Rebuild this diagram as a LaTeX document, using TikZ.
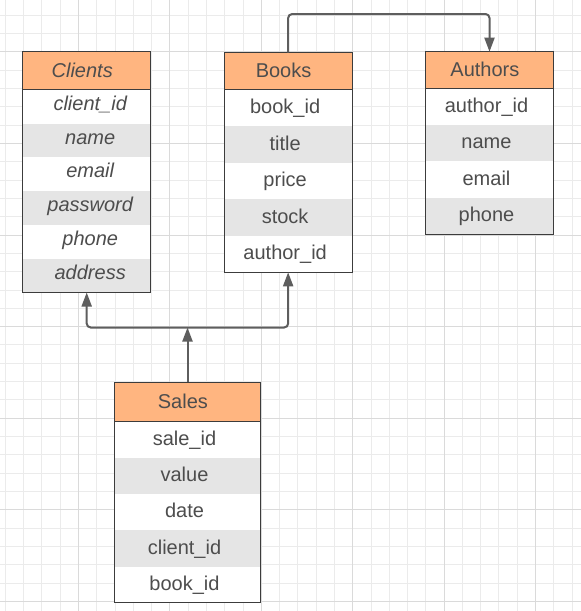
\documentclass[tikz,border=0pt]{standalone}
\usepackage{fontspec}
\setmainfont{Liberation Sans}
\usetikzlibrary{arrows.meta}
\definecolor{hdrfill}{HTML}{FFB580}
\definecolor{rowgray}{HTML}{E5E5E5}
\definecolor{bordercol}{HTML}{3C3C3C}
\definecolor{txt}{HTML}{4D4D4D}
\definecolor{arrowcol}{HTML}{5E5E5E}
\definecolor{gridminor}{HTML}{EBEBEB}
\definecolor{gridmajor}{HTML}{DADADA}
\tikzset{
  txshift/.initial=0pt,
  cell/.style 2 args={anchor=north west, minimum width=#1pt, minimum height=#2pt,
    inner sep=0pt, outer sep=0pt, text height=11.6pt, text depth=0pt,
    font=\fontsize{20}{24}\selectfont, text=txt, fill=white, txshift=-6pt,
    execute at begin node={\kern\pgfkeysvalueof{/tikz/txshift}}},
  grayrow/.style={fill=rowgray},
  hdr/.style 2 args={cell={#1}{#2}, fill=hdrfill, draw=bordercol, line width=1pt,
    text height=13.8pt, txshift=-9.2pt},
  itrow/.style={text height=7.4pt, font=\fontsize{20}{24}\selectfont\itshape,
    txshift=7pt},
  ithdr/.style={font=\fontsize{20}{24}\selectfont\itshape, text height=13.2pt,
    txshift=-9pt},
  outline/.style={draw=bordercol, line width=1pt},
  conn/.style={draw=arrowcol, line width=2pt, rounded corners=4pt},
  tip/.tip={Triangle[length=14pt,width=10pt]},
  minorline/.style={draw=gridminor, line width=1pt},
  majorline/.style={draw=gridmajor, line width=1pt}
}
\begin{document}
\begin{tikzpicture}[x=1pt,y=-1pt]
\useasboundingbox (0,0) rectangle (581,611);
% grid
\foreach \i in {0,...,31} \draw[minorline] ({5.4+18.28*\i},0) -- ({5.4+18.28*\i},611);
\foreach \i in {0,...,32} \draw[minorline] (0,{15.2+18.32*\i}) -- (581,{15.2+18.32*\i});
\foreach \i in {0,...,5} \draw[majorline] ({78.5+91.4*\i},0) -- ({78.5+91.4*\i},611);
\foreach \i in {0,...,6} \draw[majorline] (0,{51.8+91.6*\i}) -- (581,{51.8+91.6*\i});

% Clients
\node[hdr={128}{38}, ithdr] (cl) at (22.7,51.7) {Clients};
\node[cell={128}{33.8}, itrow] (cl1) at (cl.south west) {client\_id};
\node[cell={128}{33.8}, itrow, grayrow] (cl2) at (cl1.south west) {name};
\node[cell={128}{33.8}, itrow] (cl3) at (cl2.south west) {email};
\node[cell={128}{33.8}, itrow, grayrow] (cl4) at (cl3.south west) {password};
\node[cell={128}{33.8}, itrow] (cl5) at (cl4.south west) {phone};
\node[cell={128}{33.8}, itrow, grayrow] (cl6) at (cl5.south west) {address};
\draw[outline] (cl.north west) rectangle (cl6.south east);
\draw[outline] (cl.south west) -- (cl.south east);

% Books
\node[hdr={128.3}{36.6}] (bk) at (224,52.7) {Books};
\node[cell={128.3}{36.6}] (bk1) at (bk.south west) {book\_id};
\node[cell={128.3}{36.6}, grayrow] (bk2) at (bk1.south west) {title};
\node[cell={128.3}{36.6}] (bk3) at (bk2.south west) {price};
\node[cell={128.3}{36.6}, grayrow] (bk4) at (bk3.south west) {stock};
\node[cell={128.3}{36.6}] (bk5) at (bk4.south west) {author\_id};
\draw[outline] (bk.north west) rectangle (bk5.south east);
\draw[outline] (bk.south west) -- (bk.south east);

% Authors
\node[hdr={127.6}{36.6}] (au) at (425.7,51.7) {Authors};
\node[cell={127.6}{36.5}] (au1) at (au.south west) {author\_id};
\node[cell={127.6}{36.5}, grayrow] (au2) at (au1.south west) {name};
\node[cell={127.6}{36.5}] (au3) at (au2.south west) {email};
\node[cell={127.6}{36.5}, grayrow] (au4) at (au3.south west) {phone};
\draw[outline] (au.north west) rectangle (au4.south east);
\draw[outline] (au.south west) -- (au.south east);

% Sales
\node[hdr={146.4}{39}] (sa) at (114.3,382.3) {Sales};
\node[cell={146.4}{36.3}] (sa1) at (sa.south west) {sale\_id};
\node[cell={146.4}{36.3}, grayrow] (sa2) at (sa1.south west) {value};
\node[cell={146.4}{36.3}] (sa3) at (sa2.south west) {date};
\node[cell={146.4}{36.3}, grayrow] (sa4) at (sa3.south west) {client\_id};
\node[cell={146.4}{36.3}] (sa5) at (sa4.south west) {book\_id};
\draw[outline] (sa.north west) rectangle (sa5.south east);
\draw[outline] (sa.south west) -- (sa.south east);

% connectors
\coordinate (toprow) at (0,14);
\coordinate (jrow) at (0,327.5);
\coordinate (j) at (sa.north |- jrow);
\draw[conn,-tip] (bk.north) -- (bk.north |- toprow) -| (au.north);
\draw[conn,-tip] (sa.north) -- (j);
\draw[conn,tip-tip] (cl6.south) |- (j) -| (bk5.south);
\end{tikzpicture}
\end{document}
